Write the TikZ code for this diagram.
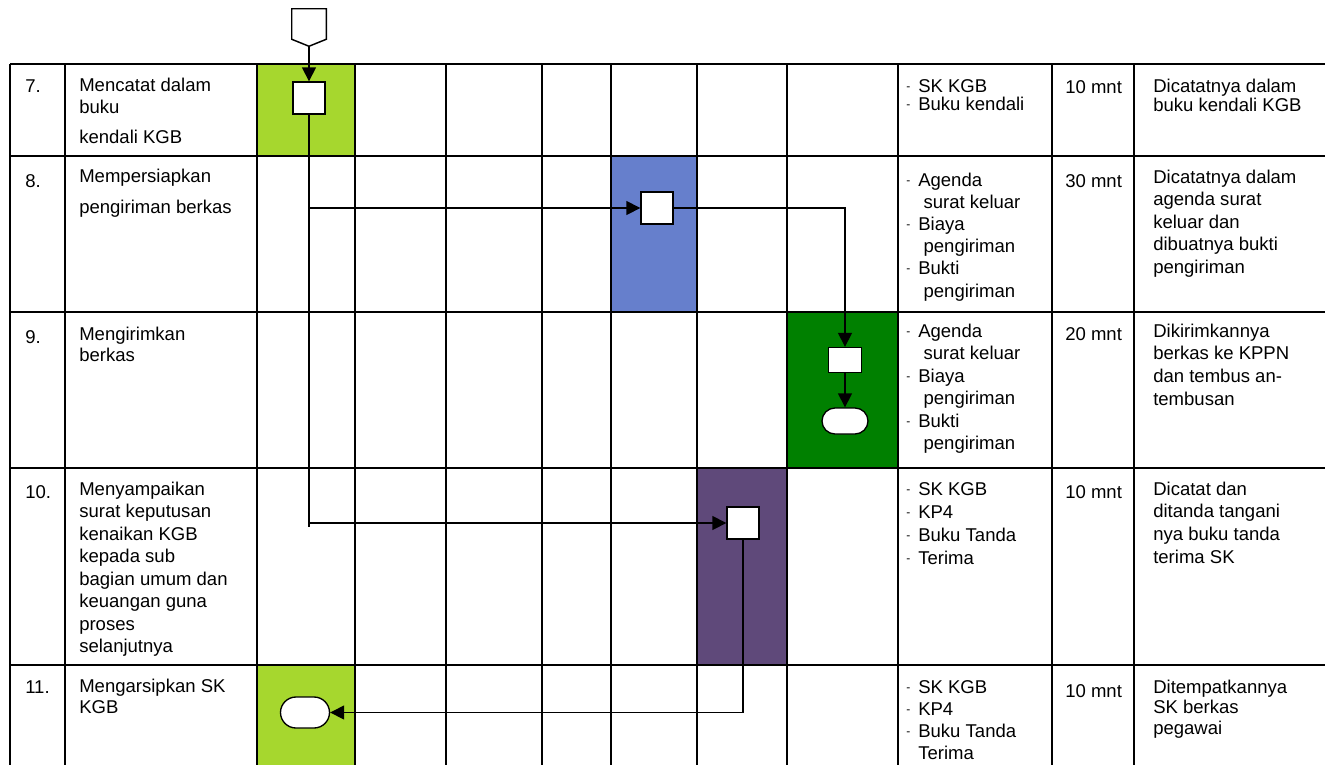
\documentclass[tikz,border=0pt]{standalone}
\usepackage{fontspec}
\setmainfont{Liberation Sans}
\usetikzlibrary{arrows.meta,shapes.misc,calc}

\definecolor{lgreen}{HTML}{A6D72E}
\definecolor{cblue}{HTML}{667FCC}
\definecolor{dgreen}{HTML}{008000}
\definecolor{cpurple}{HTML}{5F497A}

\newcommand\dsh{\makebox[9pt][l]{\raisebox{1.5pt}{\fontsize{9}{9}\selectfont -}}}
\newcommand\cnt{\hspace*{13pt}}
\newcommand\cntb{\hspace*{9pt}}
% name, x, first baseline, line step, list of lines
\newcommand\txtlines[5]{%
  \foreach \t [count=\i from 0] in {#5} {\node[txt] (#1-\i) at ({#2},{#3+\i*#4}) {\t};}}

\begin{document}
\begin{tikzpicture}[x=0.75pt,y=-0.75pt,
  txt/.style={anchor=base west,inner sep=0pt,font=\fontsize{13.9}{16}\selectfont},
  gridthick/.style={line width=1.5pt},
  gridthin/.style={line width=0.8pt},
  proc/.style={draw,fill=white,line width=1pt,inner sep=0pt,minimum width=24pt,minimum height=24pt},
  term/.style={draw,fill=white,line width=1pt,inner sep=0pt,rounded rectangle},
  conn/.style={line width=1pt},
  arr/.style={line width=1pt,-{Triangle[length=10.5pt,width=10.5pt]}}]

\fill[white] (0,0) rectangle (1325,765);
\useasboundingbox (0,0) rectangle (1325,765);

% cell fills
\fill[lgreen] (257,64) rectangle (355,156);
\fill[cblue] (611,156) rectangle (697,312);
\fill[dgreen] (787,312) rectangle (898,468);
\fill[cpurple] (697,468) rectangle (787,665);
\fill[lgreen] (257,665) rectangle (355,765);

% grid
\foreach \x in {10,65,257,355,446,542,611,697,787,898,1052,1134}
  \draw[gridthick] (\x,64) -- (\x,765);
\foreach \y in {64,156,312,468}
  \draw[gridthick] (10,\y) -- (1325,\y);
\draw[gridthin] (10,665) -- (1325,665);

% off-page connector
\node[minimum width=25.5pt,minimum height=22.5pt,inner sep=0pt] (oc) at (309,24) {};
\coordinate (octip) at ($(oc.south)+(0,7)$);
\draw[line width=1.1pt,fill=white] (oc.north west) -- (oc.north east) -- (oc.south east)
  -- (octip) -- (oc.south west) -- cycle;

% process boxes and terminators
\node[proc] (b7) at (309,98) {};
\node[proc] (b8) at (657,208) {};
\node[proc,minimum width=24.75pt,minimum height=18.75pt] (b9) at (845,360) {};
\node[proc] (b10) at (743,523) {};
\node[term,minimum width=34.5pt,minimum height=19.5pt] (t9) at (845,421) {};
\node[term,minimum width=36.75pt,minimum height=23.25pt] (t11) at (305,712.5) {};
\coordinate (trend) at ($(b7.south |- b10.west)+(0,4)$);

% connectors
\draw[arr] (octip) -- (b7.north);
\draw[conn] (b7.south) -- (trend);
\draw[arr] (b7.south |- b8.west) -- (b8.west);
\draw[arr] (b7.south |- b10.west) -- (b10.west);
\draw[arr] (b8.east) -| (b9.north);
\draw[arr] (b9.south) -- (t9.north);
\draw[arr] (b10.south) |- (t11.east);

% numbers
\node[txt] (n7) at (25,92) {7.};
\node[txt] (n8) at (25,187) {8.};
\node[txt] (n9) at (25,343) {9.};
\node[txt] (n10) at (25,498) {10.};
\node[txt] (n11) at (25,693) {11.};

% activities
\node[txt] (a7-0) at (79,91) {Mencatat dalam};
\node[txt] (a7-1) at (79,113) {buku};
\node[txt] (a7-2) at (79,143) {kendali KGB};
\txtlines{a8}{79}{182}{31}{Mempersiapkan, pengiriman berkas}
\txtlines{a9}{79}{340}{21}{Mengirimkan, berkas}
\txtlines{a10}{79}{495}{22.5}{Menyampaikan, surat keputusan, kenaikan KGB, kepada sub, bagian umum dan, keuangan guna, proses, selanjutnya}
\txtlines{a11}{79}{692}{21}{Mengarsipkan SK, KGB}

% materials
\txtlines{m7}{906}{92}{18.5}{\dsh SK KGB, \dsh Buku kendali}
\txtlines{m8}{906}{186}{22.2}{\dsh Agenda, \cnt surat keluar, \dsh Biaya, \cnt pengiriman, \dsh Bukti, \cnt pengiriman}
\txtlines{m9}{906}{337}{22.5}{\dsh Agenda, \cnt surat keluar, \dsh Biaya, \cnt pengiriman, \dsh Bukti, \cnt pengiriman}
\txtlines{m10}{906}{495}{23.3}{\dsh SK KGB, \dsh KP4, \dsh Buku Tanda, \dsh Terima}
\txtlines{m11}{906}{693}{22.3}{\dsh SK KGB, \dsh KP4, \dsh Buku Tanda, \cntb Terima}

% durations
\node[txt] (du7) at (1065,93) {10 mnt};
\node[txt] (du8) at (1065,187) {30 mnt};
\node[txt] (du9) at (1065,340) {20 mnt};
\node[txt] (du10) at (1065,498) {10 mnt};
\node[txt] (du11) at (1065,697) {10 mnt};

% outputs
\txtlines{o7}{1153}{92}{19}{Dicatatnya dalam, buku kendali KGB}
\txtlines{o8}{1153}{183}{22.5}{Dicatatnya dalam, agenda surat, keluar dan, dibuatnya bukti, pengiriman}
\txtlines{o9}{1153}{337}{22.7}{Dikirimkannya, berkas ke KPPN, dan tembus an-, tembusan}
\txtlines{o10}{1153}{495}{22.7}{Dicatat dan, ditanda tangani, nya buku tanda, terima SK}
\txtlines{o11}{1153}{693}{20.5}{Ditempatkannya, SK berkas, pegawai}

\end{tikzpicture}
\end{document}
